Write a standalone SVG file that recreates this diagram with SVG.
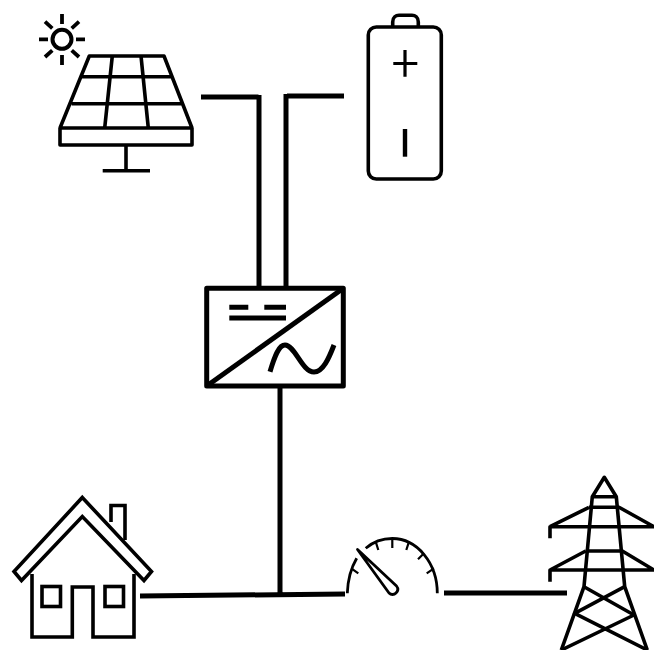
<svg xmlns="http://www.w3.org/2000/svg" width="654" height="650" viewBox="0 0 654 650">
<style>
.l{fill:none;stroke:#000;stroke-width:3.600;stroke-linejoin:round}
.c{fill:none;stroke:#000;stroke-width:5}
.t{fill:none;stroke:#000;stroke-width:2.200}
</style>
<rect width="654" height="650" fill="#fff"/>
<g id="connectors">
<path class="c" d="M201 97H258.500M259 95V288M287 96H344M286 94V288"/>
<path class="c" d="M280 388V594M140 596L345 594M444 593H567"/>
</g>
<g id="solar">
<circle class="l" cx="62" cy="39.300" r="9.500" style="stroke-width:4"/>
<path class="l" style="stroke-width:3.800" d="M39 39.300H48M76 39.300H85M62 14V24M62 55V65M45 21.700L52.300 28.300M79 21.700L71.700 28.300M45 57L52.300 50.300M79 57L71.700 50.300"/>
<path class="l" d="M60 128L89.300 56H164L192 128M60 128H192V145H60ZM82 76.700H170.700M71.700 103.700H181.700M112.300 56L104.700 128M141 56L148.300 128M126 145V171M102.700 170.700H150"/>
</g>
<g id="battery">
<rect class="l" x="368.300" y="27" width="73" height="152" rx="8"/>
<path class="l" d="M392.700 26V22C392.700 17 396 15.300 399 15.300H412C415 15.300 418.300 17 418.300 22V26"/>
<path class="l" style="stroke-width:3.200" d="M393.300 63.500H417.300M405 50V76.700"/>
<path class="l" style="stroke-width:4.400" d="M405 129V156.700"/>
</g>
<g id="inverter">
<rect class="c" style="stroke-linejoin:round" x="206.700" y="288.300" width="136.600" height="97.700"/>
<path class="c" d="M206.700 386L343.300 288.300"/>
<path class="c" d="M229.300 307.300H248.300M264.300 307.300H286M229.300 318H286"/>
<path class="c" d="M270 371.700C275 355 279 345 285 345C295 345 302 372 314 372C323 372 329 358 334 345"/>
</g>
<g id="house">
<path class="l" style="stroke-linejoin:miter" d="M82.300 497.500L151.500 571.500L144 580.500L82.300 516.500L21.500 580.500L14 571.500Z"/>
<path class="l" style="stroke-linejoin:miter" d="M32 574V637H72.300V587H93V637H134V574M111 522V505.500H125V540"/>
<rect class="l" style="stroke-linejoin:miter" x="42" y="586.500" width="18.500" height="20"/>
<rect class="l" style="stroke-linejoin:miter" x="105" y="586.500" width="18.500" height="20"/>
</g>
<g id="meter">
<path class="l" style="stroke-width:2.800" d="M347.300 593.300C347.800 580 351 568 356.700 558.300M365.700 548.300C373 542 382 538.500 392.300 538.500C417 538.500 437.300 563 437.300 593.300"/>
<path class="t" d="M351.300 568.300L358.300 573.300M375.700 541.700L378.300 550M392.300 538V548M409 541.700L406.300 550M424 553.300L418 559.300M434 568.300L426.700 573.300"/>
<path class="l" style="stroke-width:2.800" d="M357.500 549.500L396.500 586C398.500 588.500 398 591 396 593C394 595 391 595 389 593Z"/>
</g>
<g id="tower">
<path class="l" d="M561.300 650L584 586.700L592.300 496.700L604.300 477.300L616.300 496.700L624.700 586.700L647.300 650"/>
<path class="l" d="M592.300 496.700H616.300M589 507.300H619L654 526.700H550V538.300M550 526.700L589 507.300M585.700 551H622.300L654 570H550V581.700M550 570L585.700 551"/>
<path class="l" d="M584 586.700L634 615L561.300 650M624.700 586.700L574.700 613.300L647.300 650"/>
</g>
</svg>
